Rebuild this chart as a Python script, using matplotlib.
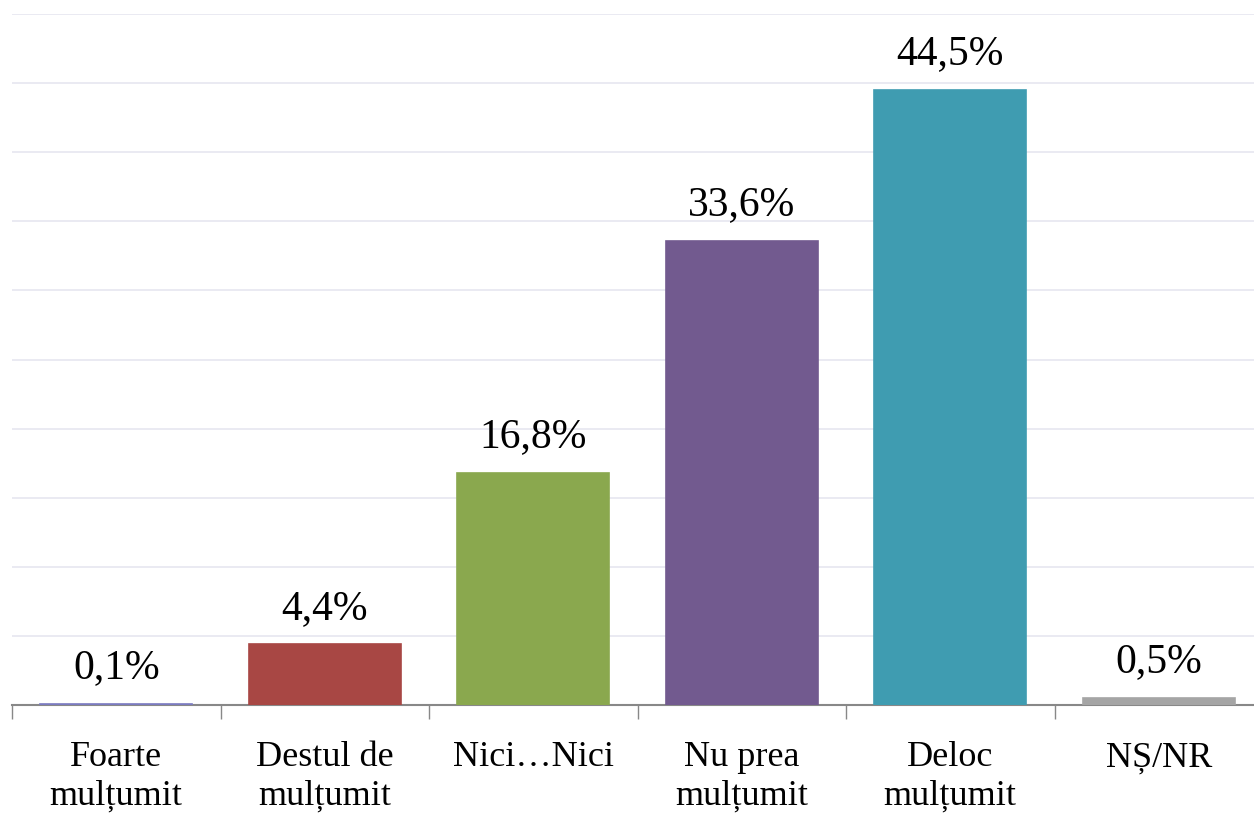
import matplotlib
matplotlib.use("Agg")
import matplotlib.pyplot as plt
import numpy as np

categories = ["Foarte\nmulțumit", "Destul de\nmulțumit", "Nici…Nici",
              "Nu prea\nmulțumit", "Deloc\nmulțumit", "NȘ/NR"]
values = [0.1, 4.4, 16.8, 33.6, 44.5, 0.5]
labels = ["0,1%", "4,4%", "16,8%", "33,6%", "44,5%", "0,5%"]
colors = ["#7B7BC0", "#A84744", "#8AA84E", "#725A8F", "#3F9CB1", "#A5A5A5"]

plt.rcParams["font.family"] = ["Liberation Serif", "DejaVu Serif"]

fig = plt.figure(figsize=(12.54, 8.19), dpi=100)
ax = fig.add_axes([12 / 1254, 114 / 819, (1263 - 12) / 1254, (705 - 14) / 819])

x = np.arange(len(categories))
ax.bar(x, values, width=0.73, color=colors, edgecolor=colors, linewidth=1.2, zorder=5)
for xi, v, lab in zip(x, values, labels):
    ax.text(xi, v + 1.2, lab, ha="center", va="bottom", fontsize=30)

ax.set_xlim(-0.5, len(categories) - 0.5)
ax.set_ylim(0, 50)
ax.set_yticks(np.arange(0, 51, 5))
ax.yaxis.grid(True, color="#E6E6F0", linewidth=1.2, zorder=0)
ax.tick_params(axis="y", left=False, labelleft=False)

ax.set_xticks(x)
ax.set_xticklabels(categories, fontsize=26, linespacing=1.2)
ax.set_xticks(np.arange(-0.5, len(categories)), minor=True)
ax.tick_params(axis="x", which="major", length=0, pad=26)
ax.tick_params(axis="x", which="minor", length=10, color="#888888", width=1)

for s in ["top", "right", "left"]:
    ax.spines[s].set_visible(False)
ax.spines["bottom"].set_color("#888888")
ax.spines["bottom"].set_linewidth(1.5)
ax.spines["bottom"].set_zorder(4)

fig.savefig("out.png", dpi=100)
